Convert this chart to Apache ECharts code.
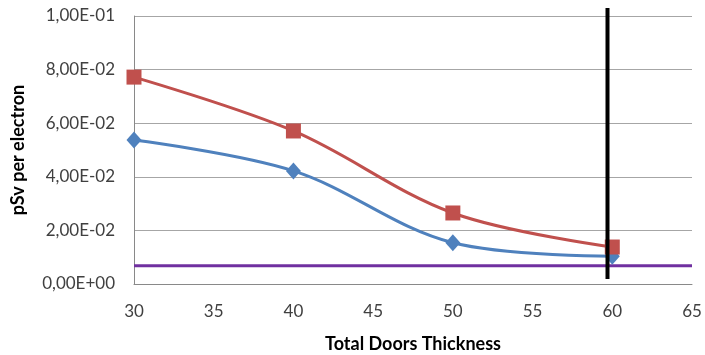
<!DOCTYPE html>
<html>
<head>
<meta charset="utf-8">
<script src="https://cdn.jsdelivr.net/npm/echarts@6/dist/echarts.min.js"></script>
<style>
  html, body { margin: 0; padding: 0; background: #fff; }
  #chart { width: 705px; height: 355px; }
</style>
</head>
<body>
<div id="chart"></div>
<script>
// thickness values on x
const thickness = [30, 40, 50, 60]
// pSv per electron
const redValues = [0.0772, 0.0571, 0.0265, 0.0138]
const blueValues = [0.0537, 0.0422, 0.0154, 0.0104]
// limit line (horizontal) and marker line (vertical)
const limitValue = 0.0068
const limitRange = [30, 65]
const markX = 59.7
const markRange = [0.0019, 0.103]

const fontFam = 'Lato, "Open Sans", sans-serif'

const fmtExp = function (v) {
  if (v === 0) return '0,00E+00'
  let e = Math.floor(Math.log10(Math.abs(v)) + 1e-9)
  let m = v / Math.pow(10, e)
  let sign = e < 0 ? '-' : '+'
  let ae = Math.abs(e)
  return m.toFixed(2).replace('.', ',') + 'E' + sign + (ae < 10 ? '0' + ae : ae)
}

const chart = echarts.init(document.getElementById('chart'))

chart.setOption({
  animation: false,
  grid: {left: 134, right: 13, top: 16, bottom: 71, outerBoundsMode: 'none', containLabel: false},
  xAxis: {
    type: 'value',
    min: 30, max: 65, interval: 5,
    name: 'Total Doors Thickness',
    nameLocation: 'middle',
    nameGap: 51,
    nameTextStyle: {fontFamily: fontFam, fontWeight: 'bold', fontSize: 18, color: '#000'},
    axisLine: {lineStyle: {color: '#898989'}},
    axisTick: {show: false},
    splitLine: {show: false},
    axisLabel: {fontFamily: fontFam, fontSize: 17, color: '#404040', margin: 19},
  },
  yAxis: {
    type: 'value',
    min: 0, max: 0.1, interval: 0.02,
    name: 'pSv per electron',
    nameLocation: 'middle',
    nameGap: 107,
    nameTextStyle: {fontFamily: fontFam, fontWeight: 'bold', fontSize: 18, color: '#000'},
    axisLine: {show: true, lineStyle: {color: '#898989'}},
    axisTick: {show: false},
    splitLine: {lineStyle: {color: '#a6a6a6'}},
    axisLabel: {fontFamily: fontFam, fontSize: 17, color: '#404040', margin: 19, formatter: fmtExp},
  },
  series: [
    {
      type: 'line',
      data: limitRange.map(x => [x, limitValue]),
      symbol: 'none',
      lineStyle: {color: '#7030a0', width: 3},
      z: 1,
    },
    {
      type: 'line',
      data: thickness.map((x, i) => [x, blueValues[i]]),
      smooth: 0.35,
      symbol: 'diamond',
      symbolSize: [15, 17],
      itemStyle: {color: '#4f81bd'},
      lineStyle: {color: '#4f81bd', width: 3},
      z: 2,
    },
    {
      type: 'line',
      data: thickness.map((x, i) => [x, redValues[i]]),
      smooth: 0.35,
      symbol: 'rect',
      symbolSize: 15,
      itemStyle: {color: '#c0504d'},
      lineStyle: {color: '#c0504d', width: 3},
      z: 3,
    },
    {
      type: 'line',
      data: markRange.map(y => [markX, y]),
      symbol: 'none',
      clip: false,
      lineStyle: {color: '#000', width: 4},
      z: 4,
    },
  ],
})
</script>
</body>
</html>
